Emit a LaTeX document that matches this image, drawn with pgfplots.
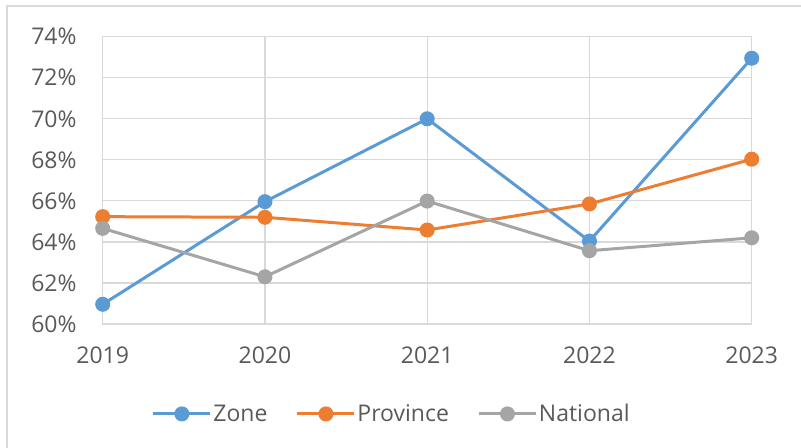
\documentclass[border=0pt]{standalone}
\usepackage{pgfplots}
\pgfplotsset{compat=1.18}
\usepackage{fontspec}
\setmainfont{Open Sans}
\definecolor{zoneC}{HTML}{5B9BD5}
\definecolor{provC}{HTML}{ED7D31}
\definecolor{natC}{HTML}{A5A5A5}
\definecolor{gridC}{HTML}{D9D9D9}
\definecolor{txtC}{HTML}{595959}
\begin{document}
\begin{tikzpicture}[x=1bp,y=1bp]
\path[use as bounding box] (0,0) rectangle (801,448);
\draw[gridC, line width=1.5bp] (7,0) -- (7,442) -- (801,442);
\begin{axis}[
  at={(102.7bp,124bp)}, anchor=south west,
  width=649bp, height=287.3bp, scale only axis,
  xmin=2019, xmax=2023, ymin=60, ymax=74,
  xtick={2019,2020,2021,2022,2023},
  xticklabels={2019,2020,2021,2022,2023},
  ytick={60,62,...,74},
  yticklabel={\pgfmathprintnumber{\tick}\%},
  /pgf/number format/assume math mode=true,
  font=\fontsize{23bp}{27bp}\selectfont,
  tick label style={text=txtC},
  yticklabel style={anchor=east, inner sep=0pt, xshift=-26bp},
  xticklabel style={anchor=north, inner sep=0pt, yshift=-23bp},
  major tick length=0pt,
  grid=major, grid style={gridC, line width=1.2bp},
  axis line style={gridC, line width=1.2bp},
  every axis plot/.append style={line width=3bp, mark=*, mark size=6bp},
  legend style={at={(0.0755,-0.313)}, anchor=west, draw=none, fill=none, inner sep=0pt,
    legend columns=3, font=\fontsize{23bp}{27bp}\selectfont, text=txtC,
    nodes={inner sep=1.5bp},
    /tikz/every even column/.append style={column sep=27bp}},
  legend cell align=left,
  legend image code/.code={\draw[#1, mark repeat=2, mark phase=2] plot coordinates {(0bp,0bp) (28.5bp,0bp) (57bp,0bp)};},
]
\addplot[color=zoneC, mark options={fill=zoneC, draw=zoneC}] coordinates {(2019,60.96) (2020,65.96) (2021,70.0) (2022,64.04) (2023,72.95)};
\addlegendentry{Zone}
\addplot[color=provC, mark options={fill=provC, draw=provC}] coordinates {(2019,65.23) (2020,65.2) (2021,64.58) (2022,65.85) (2023,68.03)};
\addlegendentry{Province}
\addplot[color=natC, mark options={fill=natC, draw=natC}] coordinates {(2019,64.66) (2020,62.3) (2021,65.99) (2022,63.57) (2023,64.2)};
\addlegendentry{National}
\end{axis}
\end{tikzpicture}
\end{document}
